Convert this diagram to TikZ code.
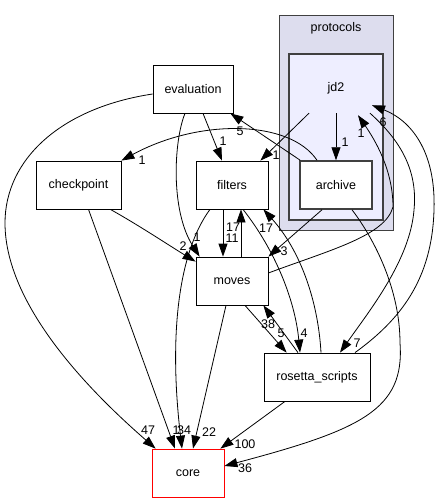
\documentclass[tikz,border=0pt]{standalone}
\usepackage{fontspec}
\setmainfont{Liberation Sans}
\usetikzlibrary{arrows.meta, positioning, calc}

\definecolor{protofill}{RGB}{221,221,238}
\definecolor{jdfill}{RGB}{238,238,255}
\definecolor{edgegray}{RGB}{64,64,64}

\begin{document}
\begin{tikzpicture}[x=1pt, y=-1pt,
    dir/.style={draw, fill=white, line width=0.8pt, minimum height=48pt, inner sep=0pt, font=\fontsize{12.5}{14}\selectfont},
    dep/.style={-{Triangle[length=13pt, width=9pt]}, line width=0.8pt},
    num/.style={inner sep=0pt, font=\fontsize{12.5}{14}\selectfont}]

    \useasboundingbox (0,0) rectangle (444,503);

    % Clusters
    \node[draw=edgegray, fill=protofill, line width=0.8pt, minimum width=114pt, minimum height=215pt, inner sep=0pt] (protocols) at (336,122.5) {};
    \node[num] (protocolslbl) at (336,28) {protocols};
    \node[draw=edgegray, fill=jdfill, line width=1.5pt, minimum width=94pt, minimum height=166pt, inner sep=0pt] (jdbox) at (336,137) {};
    \node[num, minimum width=64pt, minimum height=50pt] (jd2) at (336,88) {jd2};

    % Directories
    \node[dir, minimum width=80pt] (evaluation) at (193,89) {evaluation};
    \node[dir, minimum width=85pt] (checkpoint) at (78.5,185) {checkpoint};
    \node[dir, minimum width=72pt] (filters) at (232,185) {filters};
    \node[dir, minimum width=72pt, draw=edgegray, line width=1.5pt] (archive) at (336,185) {archive};
    \node[dir, minimum width=72pt] (moves) at (232,281) {moves};
    \node[dir, minimum width=106pt] (rosetta) at (317,377) {rosetta\_scripts};
    \node[dir, minimum width=72pt, draw=red] (core) at (188,473) {core};

    % evaluation
    \draw[dep] ($(evaluation.west)+(0,5)$) .. controls (60,108) and (5,160) .. (5,223)
                .. controls (5,310) and (100,400) .. ($(core.north west)+(4,0)$);
    \draw[dep] ($(evaluation.south)+(-8,0)$) .. controls (174,140) and (170,210) .. ($(moves.north west)+(4,0)$);
    \draw[dep] ($(evaluation.south)+(10,0)$) -- ($(filters.north)+(-10,0)$);

    % jd2
    \draw[dep] ($(jd2.south)+(-27,0)$) -- ($(filters.north east)+(-8,0)$);
    \draw[dep] (jd2.south) -- (archive.north);
    \draw[dep] ($(jd2.south)+(34,0)$) .. controls (400,140) and (418,170) .. (414,210)
                .. controls (410,260) and (370,310) .. ($(rosetta.north)+(23,0)$);

    % archive
    \draw[dep] ($(archive.north west)+(1,0)$) -- ($(evaluation.south east)+(-3,0)$);
    \draw[dep] ($(archive.north)+(-19,0)$) .. controls (290,120) and (200,118) .. (checkpoint.north east);
    \draw[dep] ($(archive.south)+(-14,0)$) -- (moves.north east);
    \draw[dep] ($(archive.south)+(16,0)$) .. controls (375,240) and (400,290) .. (400,343)
                .. controls (405,410) and (360,430) .. ($(core.east)+(0,-7)$);

    % checkpoint
    \draw[dep] ($(checkpoint.south east)+(-11,0)$) .. controls (140,226) and (170,246) .. ($(moves.north west)+(0,5)$);
    \draw[dep] ($(checkpoint.south)+(10,0)$) -- ($(core.north)+(-13,0)$);

    % filters
    \draw[dep] ($(filters.south)+(-9,0)$) -- ($(moves.north)+(-9,0)$);
    \draw[dep] ($(filters.south)+(-22,0)$) .. controls (180,250) and (168,330) .. ($(core.north)+(-6,0)$);
    \draw[dep] ($(filters.south)+(11,0)$) .. controls (275,250) and (295,300) .. ($(rosetta.north)+(-17,0)$);

    % moves
    \draw[dep] ($(moves.north)+(9,0)$) -- ($(filters.south)+(9,0)$);
    \draw[dep] ($(moves.east)+(0,-8)$) .. controls (330,250) and (385,236) .. (393,207)
                .. controls (393,170) and (375,140) .. ($(jd2.south)+(22,2)$);
    \draw[dep] ($(moves.south)+(-6,0)$) -- ($(core.north)+(5,0)$);
    \draw[dep] ($(moves.south)+(13,0)$) -- ($(rosetta.north west)+(23,0)$);

    % rosetta_scripts
    \draw[dep] ($(rosetta.north)+(-19,0)$) -- ($(moves.south east)+(-5,0)$);
    \draw[dep] ($(rosetta.north)+(4,0)$) .. controls (318,300) and (300,250) .. ($(filters.south east)+(-5,0)$);
    \draw[dep] ($(rosetta.north)+(38,0)$) .. controls (400,320) and (432,280) .. (434,210)
                .. controls (436,150) and (410,120) .. ($(jd2.south)+(36,-8)$);
    \draw[dep] ($(rosetta.south)+(-32,0)$) -- ($(core.north east)+(-4,0)$);

    % Counts
    \node[num] (n47) at (148,430) {47};
    \node[num] (nchk) at (176,430) {1};
    \node[num] (nfil) at (184,430) {34};
    \node[num] (n22) at (209,432) {22};
    \node[num] (n100) at (245,444) {100};
    \node[num] (n36) at (245,468) {36};
    \node[num] (nevmv) at (197,237) {1};
    \node[num] (nevfi) at (223,141) {1};
    \node[num] (narev) at (240,131) {5};
    \node[num] (njdfi) at (276,155) {1};
    \node[num] (njdar) at (345,142) {1};
    \node[num] (narch) at (142,160) {1};
    \node[num] (narmv) at (284,251) {3};
    \node[num] (nmvjd) at (361,133) {1};
    \node[num] (nrsjd) at (383,122) {6};
    \node[num] (njdrs) at (357,343) {7};
    \node[num] (nfimv) at (232,238) {11};
    \node[num] (nmvfi) at (233,227) {17};
    \node[num] (nrsfi) at (266,228) {17};
    \node[num] (nchmv) at (183,246) {2};
    \node[num] (nmvrs) at (281,333) {5};
    \node[num] (nrsmv) at (268,324) {38};
    \node[num] (nfirs) at (304,333) {4};

\end{tikzpicture}
\end{document}
